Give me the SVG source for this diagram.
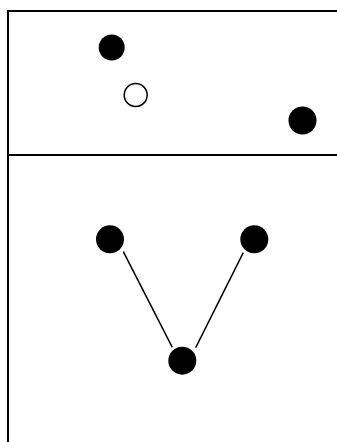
<svg xmlns="http://www.w3.org/2000/svg" width="337" height="442" viewBox="0 0 337 442">
<style>
.frame{stroke:#000;stroke-width:2;fill:none}
.dot{fill:#000}
.open{fill:#fff;stroke:#000;stroke-width:1.5}
.edge{stroke:#000;stroke-width:1.5;fill:none}
</style>
<rect width="337" height="442" fill="#fff"/>
<g id="frame">
<line class="frame" x1="8" y1="11" x2="337" y2="11"/>
<line class="frame" x1="8" y1="10" x2="8" y2="442"/>
<line class="frame" x1="7" y1="155" x2="337" y2="155"/>
</g>
<g id="connectors">
<line class="edge" x1="123.3" y1="251.7" x2="172.3" y2="347.3"/>
<line class="edge" x1="243.3" y1="252.7" x2="195.7" y2="347.7"/>
</g>
<g id="n1"><circle class="dot" cx="111.7" cy="47.5" r="13"/></g>
<g id="n2"><circle class="open" cx="135.7" cy="95" r="11.5"/></g>
<g id="n3"><circle class="dot" cx="302.5" cy="120.5" r="14"/></g>
<g id="n4"><circle class="dot" cx="110" cy="239.3" r="14"/></g>
<g id="n5"><circle class="dot" cx="254.3" cy="239.3" r="14"/></g>
<g id="n6"><circle class="dot" cx="182.3" cy="360.7" r="14"/></g>
</svg>
